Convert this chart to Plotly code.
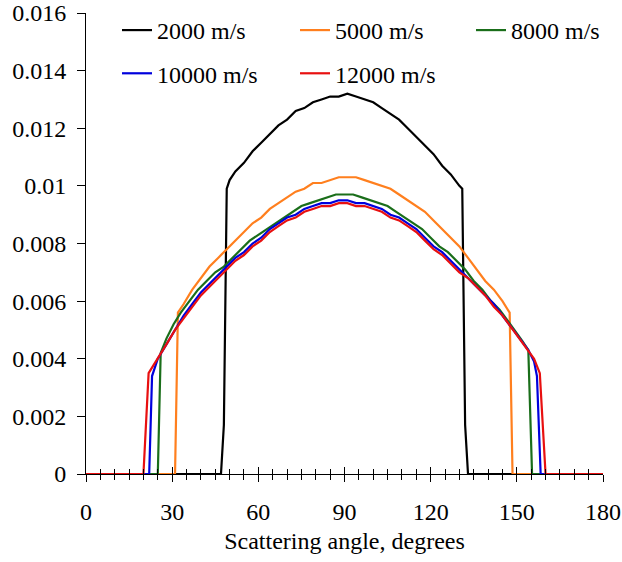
import plotly.graph_objects as go

# ---- data ----
x_2000 = [0, 47, 48, 49, 50, 52, 55, 58, 61, 64, 67, 70, 73, 76, 79, 82, 85, 88, 91, 94, 97, 100,
          103, 106, 109, 112, 115, 118, 121, 124, 127, 130, 131, 132, 133, 180]
y_2000 = [0, 0, 0.0017, 0.0099, 0.0102, 0.0105, 0.0108, 0.0112, 0.0115, 0.0118, 0.0121, 0.0123,
          0.0126, 0.0127, 0.0129, 0.0130, 0.0131, 0.0131, 0.0132, 0.0131, 0.0130, 0.0129, 0.0127,
          0.0125, 0.0123, 0.0120, 0.0117, 0.0114, 0.0111, 0.0107, 0.0104, 0.0100, 0.0099, 0.0017,
          0, 0]

x_5000 = [0, 31, 32, 34, 37, 40, 43, 46, 49, 52, 55, 58, 61, 64, 67, 70, 73, 76, 79, 82, 85, 88,
          91, 94, 97, 100, 103, 106, 109, 112, 115, 118, 121, 124, 127, 130, 133, 136, 139, 142,
          145, 147.5, 148.5, 180]
y_5000 = [0, 0, 0.0056, 0.0059, 0.0064, 0.0068, 0.0072, 0.0075, 0.0078, 0.0081, 0.0084, 0.0087,
          0.0089, 0.0092, 0.0094, 0.0096, 0.0098, 0.0099, 0.0101, 0.0101, 0.0102, 0.0103, 0.0103,
          0.0103, 0.0102, 0.0101, 0.0100, 0.0099, 0.0097, 0.0095, 0.0093, 0.0091, 0.0088, 0.0085,
          0.0082, 0.0079, 0.0075, 0.0071, 0.0067, 0.0064, 0.0060, 0.0056, 0, 0]

x_8000 = [0, 25, 26, 28, 30.5, 33, 36, 39, 42, 45, 48, 51, 54, 57, 60, 63, 66, 69, 72, 75, 78, 81,
          84, 87, 90, 93, 96, 99, 102, 105, 108, 111, 114, 117, 120, 123, 126, 129, 132, 135, 138,
          141, 144, 147, 150, 152, 154, 155.3, 180]
y_8000 = [0, 0, 0.0042, 0.0047, 0.0052, 0.0056, 0.0060, 0.0064, 0.0067, 0.0070, 0.0072, 0.0075,
          0.0078, 0.0081, 0.0083, 0.0085, 0.0087, 0.0089, 0.0091, 0.0093, 0.0094, 0.0095, 0.0096,
          0.0097, 0.0097, 0.0097, 0.0096, 0.0095, 0.0094, 0.0093, 0.0091, 0.0089, 0.0087, 0.0085,
          0.0082, 0.0079, 0.0077, 0.0074, 0.0071, 0.0067, 0.0064, 0.0060, 0.0057, 0.0053, 0.0049,
          0.0046, 0.0043, 0, 0]

x_10000 = [0, 22, 23, 25, 28, 31, 34, 37, 40, 43, 46, 49, 52, 55, 58, 61, 64, 67, 70, 73, 76, 79,
           82, 85, 88, 91, 94, 97, 100, 103, 106, 109, 112, 115, 118, 121, 124, 127, 130, 133, 136,
           139, 142, 145, 148, 151, 154, 156, 157, 158.3, 180]
y_10000 = [0, 0, 0.0034, 0.0040, 0.0045, 0.0050, 0.0055, 0.0059, 0.0063, 0.0066, 0.0069, 0.0072,
           0.0075, 0.0077, 0.0080, 0.0082, 0.0085, 0.0087, 0.0089, 0.0090, 0.0092, 0.0093, 0.0094,
           0.0094, 0.0095, 0.0095, 0.0094, 0.0094, 0.0093, 0.0092, 0.0090, 0.0089, 0.0087, 0.0085,
           0.0082, 0.0079, 0.0077, 0.0074, 0.0071, 0.0068, 0.0065, 0.0062, 0.0059, 0.0055, 0.0051,
           0.0047, 0.0043, 0.0039, 0.0034, 0, 0]

x_12000 = [0, 20, 21.8, 25, 28, 31, 34, 37, 40, 43, 46, 49, 52, 55, 58, 61, 64, 67, 70, 73, 76, 79,
           82, 85, 88, 91, 94, 97, 100, 103, 106, 109, 112, 115, 118, 121, 124, 127, 130, 133, 136,
           139, 142, 145, 148, 151, 154, 156, 158, 160, 180]
y_12000 = [0, 0, 0.0035, 0.0040, 0.0045, 0.0050, 0.0054, 0.0058, 0.0062, 0.0065, 0.0068, 0.0071,
           0.0074, 0.0076, 0.0079, 0.0081, 0.0084, 0.0086, 0.0088, 0.0089, 0.0091, 0.0092, 0.0093,
           0.0093, 0.0094, 0.0094, 0.0093, 0.0093, 0.0092, 0.0091, 0.0089, 0.0088, 0.0086, 0.0084,
           0.0081, 0.0078, 0.0076, 0.0073, 0.0070, 0.0068, 0.0065, 0.0062, 0.0058, 0.0055, 0.0051,
           0.0047, 0.0043, 0.0040, 0.0035, 0, 0]

series_names = ["2000 m/s", "5000 m/s", "8000 m/s", "10000 m/s", "12000 m/s"]
series_colors = ["#000000", "#FF7F1E", "#1A6E1A", "#0000DD", "#E81010"]
series_legend = ["legend", "legend2", "legend3", "legend", "legend2"]

x_ticks = [0, 30, 60, 90, 120, 150, 180]
y_tickvals = [0, 0.002, 0.004, 0.006, 0.008, 0.01, 0.012, 0.014, 0.016]
y_ticktext = ["0", "0.002", "0.004", "0.006", "0.008", "0.01", "0.012", "0.014", "0.016"]
x_title = "Scattering angle, degrees"

xs = [x_2000, x_5000, x_8000, x_10000, x_12000]
ys = [y_2000, y_5000, y_8000, y_10000, y_12000]

FONT = "Liberation Serif, Times New Roman, serif"

fig = go.Figure()
for xv, yv, name, col, lg in zip(xs, ys, series_names, series_colors, series_legend):
    fig.add_trace(go.Scatter(x=xv, y=yv, mode="lines", name=name, legend=lg, legendgroup=name,
                             line=dict(color=col, width=2.2)))

# invisible trace to carry the overlaid axis with inside ticks
fig.add_trace(go.Scatter(x=[0, 180], y=[0, 0], xaxis="x2", mode="lines",
                         line=dict(width=0, color="rgba(0,0,0,0)"), showlegend=False,
                         hoverinfo="skip"))

axis_common = dict(range=[0, 180], tickvals=x_ticks, showgrid=False, zeroline=False,
                   automargin=False)

legend_common = dict(orientation="v", yref="container", y=0.9858, xanchor="left",
                     yanchor="top", bgcolor="rgba(0,0,0,0)", tracegroupgap=9,
                     font=dict(size=24))

fig.update_layout(
    width=622, height=562,
    margin=dict(l=86, r=19, t=13, b=88, autoexpand=False),
    paper_bgcolor="white", plot_bgcolor="white",
    font=dict(family=FONT, size=24, color="black"),
    xaxis=dict(**axis_common, showline=True, linecolor="black", linewidth=1,
               ticks="outside", ticklen=7, tickcolor="black", tickwidth=1,
               minor=dict(dtick=5, ticks="outside", ticklen=5, tickcolor="black", tickwidth=1),
               tickfont=dict(size=24), ticklabelstandoff=9,
               title=dict(text=x_title, font=dict(size=24), standoff=8)),
    xaxis2=dict(**axis_common, overlaying="x", anchor="y", side="bottom", showline=False,
                ticks="inside", ticklen=7, tickcolor="black", tickwidth=1,
                minor=dict(dtick=5, ticks="inside", ticklen=5, tickcolor="black", tickwidth=1),
                showticklabels=False),
    yaxis=dict(range=[0, 0.016], tickvals=y_tickvals, ticktext=y_ticktext, showgrid=False,
               zeroline=False, showline=True, linecolor="black", linewidth=1, automargin=False,
               ticks="outside", ticklen=8, tickcolor="black", tickwidth=1,
               tickfont=dict(size=24), ticklabelstandoff=6),
    legend=dict(**legend_common, x=0.06),
    legend2=dict(**legend_common, x=0.4043),
    legend3=dict(**legend_common, x=0.7447),
    showlegend=True,
)

fig.write_html("out.html")
